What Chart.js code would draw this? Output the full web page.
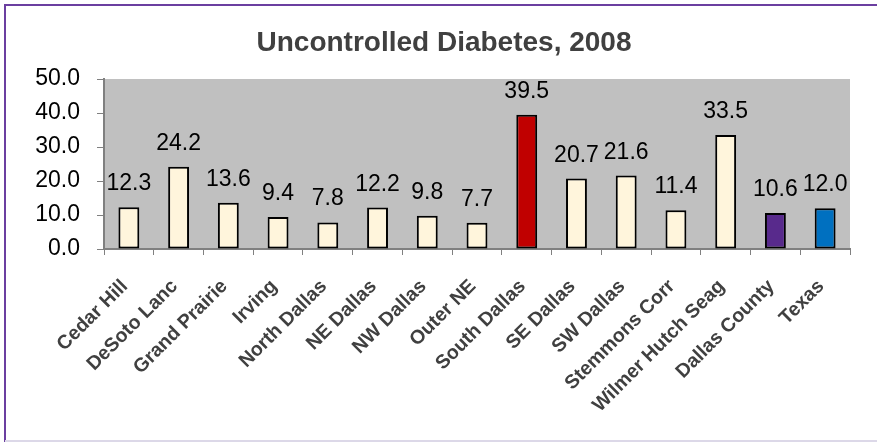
<!DOCTYPE html>
<html>
<head>
<meta charset="utf-8">
<script src="https://cdn.jsdelivr.net/npm/chart.js@4/dist/chart.umd.min.js"></script>
<style>
html,body{margin:0;padding:0;background:#fff;}
#wrap{width:877px;height:442px;position:relative;}
</style>
</head>
<body>
<div id="wrap"><canvas id="c" width="877" height="442"></canvas></div>
<script>
const categories = ["Cedar Hill","DeSoto Lanc","Grand Prairie","Irving","North Dallas","NE Dallas","NW Dallas","Outer NE","South Dallas","SE Dallas","SW Dallas","Stemmons Corr","Wilmer Hutch Seag","Dallas County","Texas"];
const values = [12.3,24.2,13.6,9.4,7.8,12.2,9.8,7.7,39.5,20.7,21.6,11.4,33.5,10.6,12.0];
const barColors = ["#FFF5DC","#FFF5DC","#FFF5DC","#FFF5DC","#FFF5DC","#FFF5DC","#FFF5DC","#FFF5DC","#C00000","#FFF5DC","#FFF5DC","#FFF5DC","#FFF5DC","#582A8C","#0070C0"];
const yTicks = [0,10,20,30,40,50];
const titleText = "Uncontrolled Diabetes, 2008";

const FONT = "'Liberation Sans', Arial, sans-serif";

const frame = {
  id: 'frame',
  beforeDraw(chart) {
    const {ctx, chartArea: a} = chart;
    ctx.save();
    ctx.fillStyle = '#fff';
    ctx.fillRect(0, 0, chart.width, chart.height);
    ctx.fillStyle = '#C0C0C0';
    ctx.fillRect(a.left, a.top, a.right - a.left, a.bottom - a.top);
    ctx.restore();
  },
  afterDraw(chart) {
    const ctx = chart.ctx;
    ctx.save();
    ctx.strokeStyle = '#6B3FA0';
    ctx.lineWidth = 2;
    ctx.beginPath();
    ctx.moveTo(5, 442);
    ctx.lineTo(5, 5);
    ctx.lineTo(877, 5);
    ctx.stroke();
    ctx.strokeStyle = '#DCD8E8';
    ctx.lineWidth = 2;
    ctx.beginPath();
    ctx.moveTo(5, 441);
    ctx.lineTo(877, 441);
    ctx.stroke();
    ctx.restore();
  }
};

const dataLabels = {
  id: 'dataLabels',
  afterDatasetsDraw(chart) {
    const ctx = chart.ctx;
    const meta = chart.getDatasetMeta(0);
    ctx.save();
    ctx.fillStyle = '#000';
    ctx.font = "23px " + FONT;
    ctx.textAlign = 'center';
    ctx.textBaseline = 'alphabetic';
    meta.data.forEach((bar, i) => {
      ctx.fillText(values[i].toFixed(1), bar.x, bar.y - 17);
    });
    ctx.restore();
  }
};

new Chart(document.getElementById('c'), {
  type: 'bar',
  data: {
    labels: categories,
    datasets: [{
      data: values,
      backgroundColor: barColors,
      borderColor: '#000',
      borderWidth: 2,
      borderSkipped: false,
      barPercentage: 0.42,
      categoryPercentage: 1.0
    }]
  },
  options: {
    responsive: false,
    animation: false,
    devicePixelRatio: 1,
    layout: { padding: { left: 11, right: 0, top: 0, bottom: 0 } },
    plugins: {
      legend: { display: false },
      tooltip: { enabled: false },
      title: {
        display: true,
        text: titleText,
        color: '#404040',
        font: { family: FONT, size: 28, weight: 'bold' },
        padding: { top: 26.5, bottom: 18.9 }
      }
    },
    scales: {
      x: {
        grid: { display: true, drawOnChartArea: false, drawTicks: true, tickLength: 6, color: '#808080', offset: true },
        border: { display: true, color: '#808080', width: 2 },
        ticks: {
          autoSkip: false,
          minRotation: 45,
          maxRotation: 45,
          color: '#404040',
          padding: 20,
          labelOffset: -4,
          font: { family: FONT, size: 19.5, weight: 'bold' }
        },
        afterFit(scale) { scale.height = 193; }
      },
      y: {
        min: 0,
        max: 50,
        afterBuildTicks(scale) { scale.ticks = yTicks.map(v => ({ value: v })); },
        grid: { display: true, drawOnChartArea: false, drawTicks: true, tickLength: 7, color: '#808080' },
        border: { display: true, color: '#808080', width: 2 },
        ticks: {
          color: '#000',
          padding: 17,
          font: { family: FONT, size: 23 },
          callback: v => Number(v).toFixed(1)
        },
        afterFit(scale) { scale.width = 93; }
      },
      yRight: {
        position: 'right',
        display: true,
        min: 0,
        max: 50,
        grid: { display: false, drawTicks: false },
        border: { display: false },
        ticks: { display: false },
        afterFit(scale) { scale.width = 27; }
      }
    }
  },
  plugins: [frame, dataLabels]
});
</script>
</body>
</html>
